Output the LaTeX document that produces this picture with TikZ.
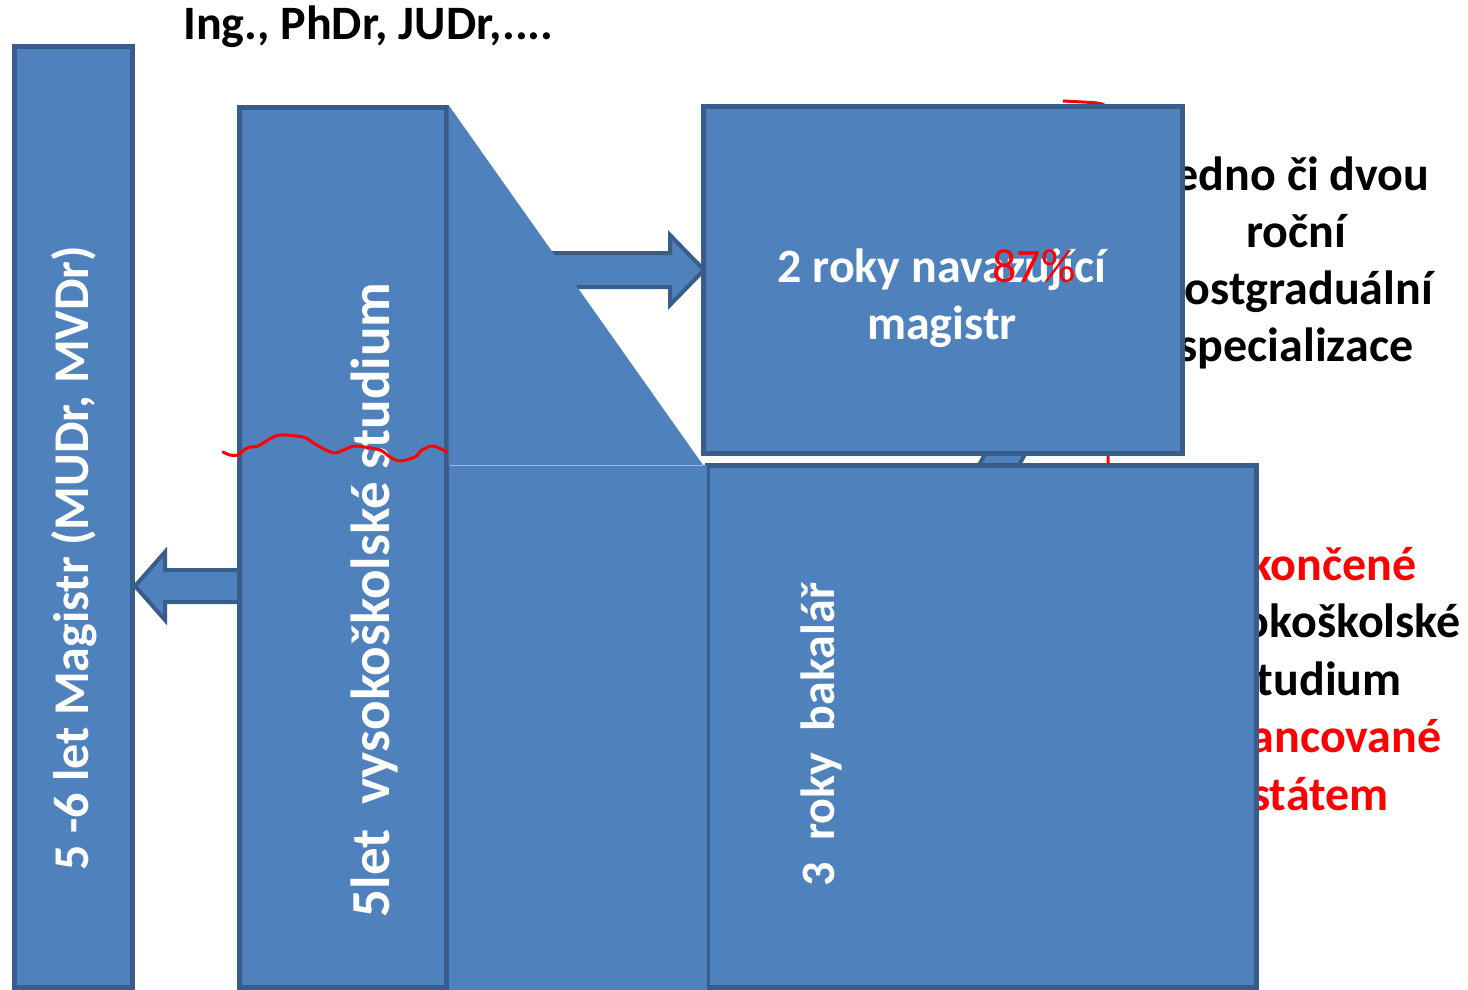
\documentclass[tikz,border=0pt]{standalone}
\usepackage{fontspec}
\setmainfont{Carlito}
\definecolor{boxblue}{HTML}{4F81BD}
\definecolor{boxedge}{HTML}{385D8A}
\definecolor{seamline}{HTML}{9DB9DE}

\begin{document}
\begin{tikzpicture}[x=1pt, y=-1pt,
    box/.style={fill=boxblue, draw=boxedge, line width=5pt},
    blockarrow/.style={fill=boxblue, draw=boxedge, line width=4pt, line join=miter},
    whitetext/.style={text=white, font=\fontsize{48}{57}\selectfont\bfseries, inner sep=0pt, anchor=base},
    sidetext/.style={font=\fontsize{48}{57}\selectfont\bfseries, inner sep=0pt, anchor=base}]
    \useasboundingbox[fill=white] (0,0) rectangle (1468,990);

    % Pieces hidden behind the boxes
    \draw[red, line width=3pt] (1063,101) -- (1092,102.5) .. controls (1108,104) .. (1108,130) -- (1108,480);
    \draw[blockarrow] (972,478) -- (990,445) -- (1030,445) -- (1012,478) -- cycle;

    % Texts on the right (partly covered)
    \foreach \i/\t in {1/jedno či dvou, 2/roční, 3/postgraduální, 4/specializace}{
    \node[sidetext] (spec\i) at (1296,{190+57.3*(\i-1)}) {\t};
    }
    \foreach \i/\t/\c in {1/ukončené/red, 2/vysokoškolské/black, 3/studium/black, 4/financované/red, 5/státem/red}{
    \node[sidetext, text=\c] (state\i) at (1320,{580+57.5*(\i-1)}) {\t};
    }

    % Left column and arrow into it
    \draw[box] (14,47) rectangle (132,987);
    \draw[blockarrow] (242,570) -- (165,570) -- (165,552) -- (135,586) -- (165,620) -- (165,602) -- (242,602) -- cycle;
    \draw[box] (239,107) rectangle (446,987);

    % Arrow to the follow-up master, under the wedge
    \draw[blockarrow] (520,253) -- (670,253) -- (670,235) -- (704,270) -- (670,305) -- (670,287) -- (520,287) -- cycle;

    % Wedge and lower block
    \fill[boxblue] (448.5,105) -- (703,465) -- (448.5,465) -- cycle;
    \draw[box] (707,465) rectangle (1256,987);
    \fill[boxblue] (448.5,465) rectangle (707,990);
    \draw[seamline, line width=1pt] (450,465.5) -- (703,465.5);

    % Follow-up master box
    \draw[box] (703,106) rectangle (1182,453);

    % Labels
    \node[sidetext, anchor=base west] (degrees) at (183,40) {Ing., PhDr, JUDr,....};
    \node[whitetext, rotate=90, font=\fontsize{50}{60}\selectfont\bfseries] (longmag) at (88,558) {5 -6 let Magistr (MUDr, MVDr)};
    \node[whitetext, rotate=90, font=\fontsize{55}{66}\selectfont\bfseries] (fiveyr) at (389,600) {5let\ \ vysokoškolské studium};
    \node[whitetext, rotate=90] (bachelor) at (834,735) {3\ \ roky\ \ bakalář};
    \node[whitetext] (master1) at (942,282) {2 roky navazující};
    \node[whitetext] (master2) at (942,339) {magistr};
    \node[font=\fontsize{48}{57}\selectfont, text=red, inner sep=0pt, anchor=base] (share) at (1034,282) {87\%};

    % Red cut line across the long study
    \draw[red, line width=3pt, line join=round, line cap=round] plot[smooth] coordinates {
    (223,452) (230,455) (238,455) (247,448) (258,446) (268,440) (280,435) (303,437)
    (312,442) (322,448) (335,453) (348,448) (357,446) (380,450) (390,457) (400,461)
    (415,457) (422,450) (433,446) (447,452)};
\end{tikzpicture}
\end{document}
